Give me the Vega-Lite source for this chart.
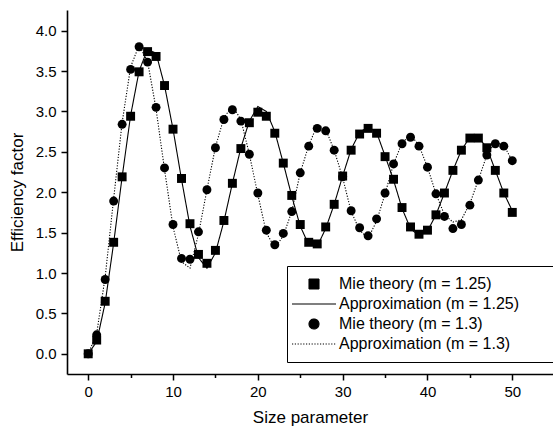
{
  "$schema": "https://vega.github.io/schema/vega-lite/v6.json",
  "width": 486,
  "height": 364,
  "autosize": {"type": "none"},
  "padding": {"left": 67, "top": 10, "right": 0, "bottom": 54},
  "background": "white",
  "config": {
    "view": {"stroke": null},
    "font": "Liberation Sans",
    "axis": {
      "domainColor": "black",
      "domainWidth": 1.6,
      "tickColor": "black",
      "tickWidth": 1.5,
      "labelColor": "black",
      "labelFont": "Liberation Sans",
      "labelFontSize": 15,
      "titleColor": "black",
      "titleFont": "Liberation Sans",
      "titleFontSize": 17,
      "titleFontWeight": "normal",
      "grid": false
    },
    "legend": {
      "orient": "none",
      "legendX": 220,
      "legendY": 256,
      "strokeColor": "black",
      "fillColor": "white",
      "padding": 10,
      "labelFont": "Liberation Sans",
      "labelFontSize": 16,
      "labelColor": "black",
      "labelLimit": 400,
      "symbolSize": 100,
      "symbolOffset": 9,
      "labelOffset": 17,
      "rowPadding": 4,
      "symbolStrokeWidth": 1.1,
      "symbolFillColor": "black",
      "symbolStrokeColor": "black",
      "titleOrient": "right",
      "titleOpacity": 0,
      "titleFontSize": 16,
      "titlePadding": 19
    }
  },
  "datasets": {
    "efficiency": [
      {"x": 0, "y": 0.00, "series": "Mie theory (m = 1.25)"},
      {"x": 1, "y": 0.17, "series": "Mie theory (m = 1.25)"},
      {"x": 2, "y": 0.65, "series": "Mie theory (m = 1.25)"},
      {"x": 3, "y": 1.38, "series": "Mie theory (m = 1.25)"},
      {"x": 4, "y": 2.19, "series": "Mie theory (m = 1.25)"},
      {"x": 5, "y": 2.94, "series": "Mie theory (m = 1.25)"},
      {"x": 6, "y": 3.49, "series": "Mie theory (m = 1.25)"},
      {"x": 7, "y": 3.74, "series": "Mie theory (m = 1.25)"},
      {"x": 8, "y": 3.68, "series": "Mie theory (m = 1.25)"},
      {"x": 9, "y": 3.32, "series": "Mie theory (m = 1.25)"},
      {"x": 10, "y": 2.78, "series": "Mie theory (m = 1.25)"},
      {"x": 11, "y": 2.17, "series": "Mie theory (m = 1.25)"},
      {"x": 12, "y": 1.61, "series": "Mie theory (m = 1.25)"},
      {"x": 13, "y": 1.23, "series": "Mie theory (m = 1.25)"},
      {"x": 14, "y": 1.12, "series": "Mie theory (m = 1.25)"},
      {"x": 15, "y": 1.28, "series": "Mie theory (m = 1.25)"},
      {"x": 16, "y": 1.65, "series": "Mie theory (m = 1.25)"},
      {"x": 17, "y": 2.11, "series": "Mie theory (m = 1.25)"},
      {"x": 18, "y": 2.54, "series": "Mie theory (m = 1.25)"},
      {"x": 19, "y": 2.86, "series": "Mie theory (m = 1.25)"},
      {"x": 20, "y": 2.99, "series": "Mie theory (m = 1.25)"},
      {"x": 21, "y": 2.94, "series": "Mie theory (m = 1.25)"},
      {"x": 22, "y": 2.73, "series": "Mie theory (m = 1.25)"},
      {"x": 23, "y": 2.36, "series": "Mie theory (m = 1.25)"},
      {"x": 24, "y": 1.96, "series": "Mie theory (m = 1.25)"},
      {"x": 25, "y": 1.60, "series": "Mie theory (m = 1.25)"},
      {"x": 26, "y": 1.38, "series": "Mie theory (m = 1.25)"},
      {"x": 27, "y": 1.36, "series": "Mie theory (m = 1.25)"},
      {"x": 28, "y": 1.57, "series": "Mie theory (m = 1.25)"},
      {"x": 29, "y": 1.85, "series": "Mie theory (m = 1.25)"},
      {"x": 30, "y": 2.20, "series": "Mie theory (m = 1.25)"},
      {"x": 31, "y": 2.52, "series": "Mie theory (m = 1.25)"},
      {"x": 32, "y": 2.72, "series": "Mie theory (m = 1.25)"},
      {"x": 33, "y": 2.79, "series": "Mie theory (m = 1.25)"},
      {"x": 34, "y": 2.73, "series": "Mie theory (m = 1.25)"},
      {"x": 35, "y": 2.44, "series": "Mie theory (m = 1.25)"},
      {"x": 36, "y": 2.16, "series": "Mie theory (m = 1.25)"},
      {"x": 37, "y": 1.81, "series": "Mie theory (m = 1.25)"},
      {"x": 38, "y": 1.57, "series": "Mie theory (m = 1.25)"},
      {"x": 39, "y": 1.48, "series": "Mie theory (m = 1.25)"},
      {"x": 40, "y": 1.53, "series": "Mie theory (m = 1.25)"},
      {"x": 41, "y": 1.72, "series": "Mie theory (m = 1.25)"},
      {"x": 42, "y": 1.99, "series": "Mie theory (m = 1.25)"},
      {"x": 43, "y": 2.27, "series": "Mie theory (m = 1.25)"},
      {"x": 44, "y": 2.52, "series": "Mie theory (m = 1.25)"},
      {"x": 45, "y": 2.67, "series": "Mie theory (m = 1.25)"},
      {"x": 46, "y": 2.67, "series": "Mie theory (m = 1.25)"},
      {"x": 47, "y": 2.55, "series": "Mie theory (m = 1.25)"},
      {"x": 48, "y": 2.27, "series": "Mie theory (m = 1.25)"},
      {"x": 49, "y": 1.99, "series": "Mie theory (m = 1.25)"},
      {"x": 50, "y": 1.75, "series": "Mie theory (m = 1.25)"},

      {"x": 0, "y": 0.00, "series": "Approximation (m = 1.25)"},
      {"x": 1, "y": 0.15, "series": "Approximation (m = 1.25)"},
      {"x": 2, "y": 0.63, "series": "Approximation (m = 1.25)"},
      {"x": 3, "y": 1.37, "series": "Approximation (m = 1.25)"},
      {"x": 4, "y": 2.19, "series": "Approximation (m = 1.25)"},
      {"x": 5, "y": 2.95, "series": "Approximation (m = 1.25)"},
      {"x": 6, "y": 3.50, "series": "Approximation (m = 1.25)"},
      {"x": 7, "y": 3.77, "series": "Approximation (m = 1.25)"},
      {"x": 8, "y": 3.72, "series": "Approximation (m = 1.25)"},
      {"x": 9, "y": 3.32, "series": "Approximation (m = 1.25)"},
      {"x": 10, "y": 2.78, "series": "Approximation (m = 1.25)"},
      {"x": 11, "y": 2.16, "series": "Approximation (m = 1.25)"},
      {"x": 12, "y": 1.58, "series": "Approximation (m = 1.25)"},
      {"x": 13, "y": 1.19, "series": "Approximation (m = 1.25)"},
      {"x": 14, "y": 1.06, "series": "Approximation (m = 1.25)"},
      {"x": 15, "y": 1.25, "series": "Approximation (m = 1.25)"},
      {"x": 16, "y": 1.64, "series": "Approximation (m = 1.25)"},
      {"x": 17, "y": 2.11, "series": "Approximation (m = 1.25)"},
      {"x": 18, "y": 2.55, "series": "Approximation (m = 1.25)"},
      {"x": 19, "y": 2.88, "series": "Approximation (m = 1.25)"},
      {"x": 20, "y": 3.06, "series": "Approximation (m = 1.25)"},
      {"x": 21, "y": 3.00, "series": "Approximation (m = 1.25)"},
      {"x": 22, "y": 2.75, "series": "Approximation (m = 1.25)"},
      {"x": 23, "y": 2.36, "series": "Approximation (m = 1.25)"},
      {"x": 24, "y": 1.95, "series": "Approximation (m = 1.25)"},
      {"x": 25, "y": 1.58, "series": "Approximation (m = 1.25)"},
      {"x": 26, "y": 1.35, "series": "Approximation (m = 1.25)"},
      {"x": 27, "y": 1.33, "series": "Approximation (m = 1.25)"},
      {"x": 28, "y": 1.55, "series": "Approximation (m = 1.25)"},
      {"x": 29, "y": 1.85, "series": "Approximation (m = 1.25)"},
      {"x": 30, "y": 2.20, "series": "Approximation (m = 1.25)"},
      {"x": 31, "y": 2.53, "series": "Approximation (m = 1.25)"},
      {"x": 32, "y": 2.74, "series": "Approximation (m = 1.25)"},
      {"x": 33, "y": 2.81, "series": "Approximation (m = 1.25)"},
      {"x": 34, "y": 2.74, "series": "Approximation (m = 1.25)"},
      {"x": 35, "y": 2.45, "series": "Approximation (m = 1.25)"},
      {"x": 36, "y": 2.15, "series": "Approximation (m = 1.25)"},
      {"x": 37, "y": 1.80, "series": "Approximation (m = 1.25)"},
      {"x": 38, "y": 1.55, "series": "Approximation (m = 1.25)"},
      {"x": 39, "y": 1.46, "series": "Approximation (m = 1.25)"},
      {"x": 40, "y": 1.52, "series": "Approximation (m = 1.25)"},
      {"x": 41, "y": 1.72, "series": "Approximation (m = 1.25)"},
      {"x": 42, "y": 1.99, "series": "Approximation (m = 1.25)"},
      {"x": 43, "y": 2.27, "series": "Approximation (m = 1.25)"},
      {"x": 44, "y": 2.52, "series": "Approximation (m = 1.25)"},
      {"x": 45, "y": 2.68, "series": "Approximation (m = 1.25)"},
      {"x": 46, "y": 2.68, "series": "Approximation (m = 1.25)"},
      {"x": 47, "y": 2.55, "series": "Approximation (m = 1.25)"},
      {"x": 48, "y": 2.27, "series": "Approximation (m = 1.25)"},
      {"x": 49, "y": 1.99, "series": "Approximation (m = 1.25)"},
      {"x": 50, "y": 1.77, "series": "Approximation (m = 1.25)"},

      {"x": 0, "y": 0.00, "series": "Mie theory (m = 1.3)"},
      {"x": 1, "y": 0.235, "series": "Mie theory (m = 1.3)"},
      {"x": 2, "y": 0.92, "series": "Mie theory (m = 1.3)"},
      {"x": 3, "y": 1.89, "series": "Mie theory (m = 1.3)"},
      {"x": 4, "y": 2.84, "series": "Mie theory (m = 1.3)"},
      {"x": 5, "y": 3.52, "series": "Mie theory (m = 1.3)"},
      {"x": 6, "y": 3.80, "series": "Mie theory (m = 1.3)"},
      {"x": 7, "y": 3.61, "series": "Mie theory (m = 1.3)"},
      {"x": 8, "y": 3.05, "series": "Mie theory (m = 1.3)"},
      {"x": 9, "y": 2.30, "series": "Mie theory (m = 1.3)"},
      {"x": 10, "y": 1.60, "series": "Mie theory (m = 1.3)"},
      {"x": 11, "y": 1.18, "series": "Mie theory (m = 1.3)"},
      {"x": 12, "y": 1.17, "series": "Mie theory (m = 1.3)"},
      {"x": 13, "y": 1.51, "series": "Mie theory (m = 1.3)"},
      {"x": 14, "y": 2.03, "series": "Mie theory (m = 1.3)"},
      {"x": 15, "y": 2.55, "series": "Mie theory (m = 1.3)"},
      {"x": 16, "y": 2.90, "series": "Mie theory (m = 1.3)"},
      {"x": 17, "y": 3.02, "series": "Mie theory (m = 1.3)"},
      {"x": 18, "y": 2.88, "series": "Mie theory (m = 1.3)"},
      {"x": 19, "y": 2.47, "series": "Mie theory (m = 1.3)"},
      {"x": 20, "y": 1.99, "series": "Mie theory (m = 1.3)"},
      {"x": 21, "y": 1.53, "series": "Mie theory (m = 1.3)"},
      {"x": 22, "y": 1.35, "series": "Mie theory (m = 1.3)"},
      {"x": 23, "y": 1.49, "series": "Mie theory (m = 1.3)"},
      {"x": 24, "y": 1.76, "series": "Mie theory (m = 1.3)"},
      {"x": 25, "y": 2.24, "series": "Mie theory (m = 1.3)"},
      {"x": 26, "y": 2.57, "series": "Mie theory (m = 1.3)"},
      {"x": 27, "y": 2.79, "series": "Mie theory (m = 1.3)"},
      {"x": 28, "y": 2.76, "series": "Mie theory (m = 1.3)"},
      {"x": 29, "y": 2.52, "series": "Mie theory (m = 1.3)"},
      {"x": 30, "y": 2.19, "series": "Mie theory (m = 1.3)"},
      {"x": 31, "y": 1.77, "series": "Mie theory (m = 1.3)"},
      {"x": 32, "y": 1.56, "series": "Mie theory (m = 1.3)"},
      {"x": 33, "y": 1.46, "series": "Mie theory (m = 1.3)"},
      {"x": 34, "y": 1.67, "series": "Mie theory (m = 1.3)"},
      {"x": 35, "y": 1.99, "series": "Mie theory (m = 1.3)"},
      {"x": 36, "y": 2.35, "series": "Mie theory (m = 1.3)"},
      {"x": 37, "y": 2.60, "series": "Mie theory (m = 1.3)"},
      {"x": 38, "y": 2.68, "series": "Mie theory (m = 1.3)"},
      {"x": 39, "y": 2.57, "series": "Mie theory (m = 1.3)"},
      {"x": 40, "y": 2.31, "series": "Mie theory (m = 1.3)"},
      {"x": 41, "y": 1.98, "series": "Mie theory (m = 1.3)"},
      {"x": 42, "y": 1.70, "series": "Mie theory (m = 1.3)"},
      {"x": 43, "y": 1.55, "series": "Mie theory (m = 1.3)"},
      {"x": 44, "y": 1.60, "series": "Mie theory (m = 1.3)"},
      {"x": 45, "y": 1.84, "series": "Mie theory (m = 1.3)"},
      {"x": 46, "y": 2.15, "series": "Mie theory (m = 1.3)"},
      {"x": 47, "y": 2.46, "series": "Mie theory (m = 1.3)"},
      {"x": 48, "y": 2.60, "series": "Mie theory (m = 1.3)"},
      {"x": 49, "y": 2.57, "series": "Mie theory (m = 1.3)"},
      {"x": 50, "y": 2.39, "series": "Mie theory (m = 1.3)"},

      {"x": 0, "y": 0.00, "series": "Approximation (m = 1.3)"},
      {"x": 1, "y": 0.25, "series": "Approximation (m = 1.3)"},
      {"x": 2, "y": 0.95, "series": "Approximation (m = 1.3)"},
      {"x": 3, "y": 1.92, "series": "Approximation (m = 1.3)"},
      {"x": 4, "y": 2.86, "series": "Approximation (m = 1.3)"},
      {"x": 5, "y": 3.55, "series": "Approximation (m = 1.3)"},
      {"x": 6, "y": 3.82, "series": "Approximation (m = 1.3)"},
      {"x": 7, "y": 3.62, "series": "Approximation (m = 1.3)"},
      {"x": 8, "y": 3.03, "series": "Approximation (m = 1.3)"},
      {"x": 9, "y": 2.28, "series": "Approximation (m = 1.3)"},
      {"x": 10, "y": 1.57, "series": "Approximation (m = 1.3)"},
      {"x": 11, "y": 1.14, "series": "Approximation (m = 1.3)"},
      {"x": 12, "y": 1.06, "series": "Approximation (m = 1.3)"},
      {"x": 13, "y": 1.48, "series": "Approximation (m = 1.3)"},
      {"x": 14, "y": 2.03, "series": "Approximation (m = 1.3)"},
      {"x": 15, "y": 2.56, "series": "Approximation (m = 1.3)"},
      {"x": 16, "y": 2.92, "series": "Approximation (m = 1.3)"},
      {"x": 17, "y": 3.07, "series": "Approximation (m = 1.3)"},
      {"x": 18, "y": 2.90, "series": "Approximation (m = 1.3)"},
      {"x": 19, "y": 2.47, "series": "Approximation (m = 1.3)"},
      {"x": 20, "y": 1.97, "series": "Approximation (m = 1.3)"},
      {"x": 21, "y": 1.50, "series": "Approximation (m = 1.3)"},
      {"x": 22, "y": 1.31, "series": "Approximation (m = 1.3)"},
      {"x": 23, "y": 1.46, "series": "Approximation (m = 1.3)"},
      {"x": 24, "y": 1.76, "series": "Approximation (m = 1.3)"},
      {"x": 25, "y": 2.24, "series": "Approximation (m = 1.3)"},
      {"x": 26, "y": 2.58, "series": "Approximation (m = 1.3)"},
      {"x": 27, "y": 2.83, "series": "Approximation (m = 1.3)"},
      {"x": 28, "y": 2.78, "series": "Approximation (m = 1.3)"},
      {"x": 29, "y": 2.52, "series": "Approximation (m = 1.3)"},
      {"x": 30, "y": 2.18, "series": "Approximation (m = 1.3)"},
      {"x": 31, "y": 1.76, "series": "Approximation (m = 1.3)"},
      {"x": 32, "y": 1.53, "series": "Approximation (m = 1.3)"},
      {"x": 33, "y": 1.43, "series": "Approximation (m = 1.3)"},
      {"x": 34, "y": 1.64, "series": "Approximation (m = 1.3)"},
      {"x": 35, "y": 1.98, "series": "Approximation (m = 1.3)"},
      {"x": 36, "y": 2.35, "series": "Approximation (m = 1.3)"},
      {"x": 37, "y": 2.61, "series": "Approximation (m = 1.3)"},
      {"x": 38, "y": 2.71, "series": "Approximation (m = 1.3)"},
      {"x": 39, "y": 2.58, "series": "Approximation (m = 1.3)"},
      {"x": 40, "y": 2.31, "series": "Approximation (m = 1.3)"},
      {"x": 41, "y": 1.98, "series": "Approximation (m = 1.3)"},
      {"x": 42, "y": 1.72, "series": "Approximation (m = 1.3)"},
      {"x": 43, "y": 1.63, "series": "Approximation (m = 1.3)"},
      {"x": 44, "y": 1.66, "series": "Approximation (m = 1.3)"},
      {"x": 45, "y": 1.86, "series": "Approximation (m = 1.3)"},
      {"x": 46, "y": 2.15, "series": "Approximation (m = 1.3)"},
      {"x": 47, "y": 2.46, "series": "Approximation (m = 1.3)"},
      {"x": 48, "y": 2.62, "series": "Approximation (m = 1.3)"},
      {"x": 49, "y": 2.58, "series": "Approximation (m = 1.3)"},
      {"x": 50, "y": 2.39, "series": "Approximation (m = 1.3)"}
    ]
  },
  "data": {"name": "efficiency"},
  "encoding": {
    "x": {
      "field": "x",
      "type": "quantitative",
      "scale": {"domain": [-2.5, 54.8], "nice": false, "zero": false},
      "axis": {
        "title": "Size parameter",
        "values": [0, 5, 10, 15, 20, 25, 30, 35, 40, 45, 50],
        "labelExpr": "datum.value % 10 === 0 ? datum.label : ''",
        "tickSize": {"condition": {"test": "datum.value % 10 !== 0", "value": 3.5}, "value": 6},
        "labelPadding": 4,
        "titlePadding": 10
      }
    },
    "y": {
      "field": "y",
      "type": "quantitative",
      "scale": {"domain": [-0.25, 4.255], "nice": false, "zero": false},
      "axis": {
        "title": "Efficiency factor",
        "values": [0, 0.5, 1, 1.5, 2, 2.5, 3, 3.5, 4],
        "format": ".1f",
        "tickSize": 6,
        "labelPadding": 5,
        "titlePadding": 9
      }
    }
  },
  "layer": [
    {
      "transform": [{"filter": "indexof(datum.series, 'Approximation') === 0"}],
      "mark": {"type": "line", "color": "black", "strokeWidth": 1.1},
      "encoding": {
        "detail": {"field": "series", "type": "nominal"},
        "strokeDash": {
          "field": "series",
          "type": "nominal",
          "title": ".",
          "scale": {
            "domain": ["Mie theory (m = 1.25)", "Approximation (m = 1.25)", "Mie theory (m = 1.3)", "Approximation (m = 1.3)"],
            "range": [[1, 0], [1, 0], [1, 0], [1.2, 1.6]]
          },
          "legend": {
            "title": ".",
            "encode": {"symbols": {"update": {"stroke": {"value": "black"}, "strokeWidth": {"value": 1.1}, "fill": {"value": "black"}}}}
          }
        }
      }
    },
    {
      "transform": [{"filter": "indexof(datum.series, 'Mie') === 0"}],
      "mark": {"type": "point", "filled": true, "color": "black", "opacity": 1, "size": 80},
      "encoding": {
        "shape": {
          "field": "series",
          "type": "nominal",
          "title": ".",
          "scale": {
            "domain": ["Mie theory (m = 1.25)", "Approximation (m = 1.25)", "Mie theory (m = 1.3)", "Approximation (m = 1.3)"],
            "range": ["square", "M-4.4,0H4.4", "circle", "M-4.4,0H4.4"]
          },
          "legend": {
            "title": ".",
            "encode": {"symbols": {"update": {"stroke": {"value": "black"}, "strokeWidth": {"value": 1.1}, "fill": {"value": "black"}}}}
          }
        }
      }
    }
  ]
}
